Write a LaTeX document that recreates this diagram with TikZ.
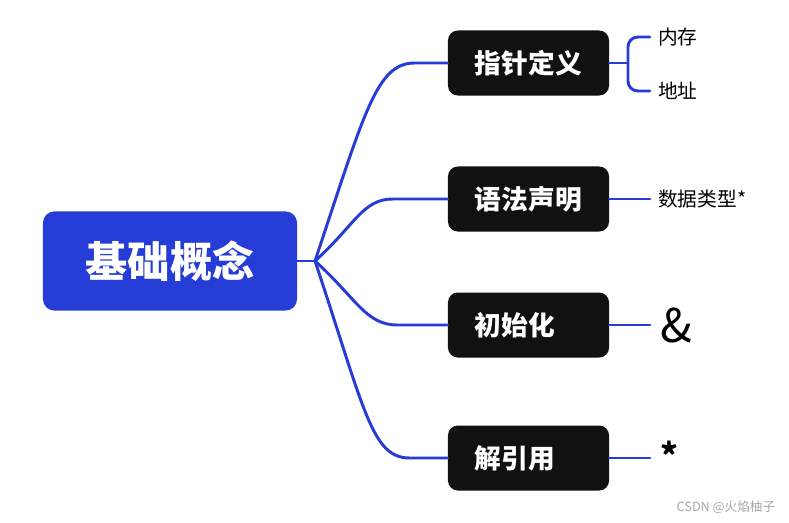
\documentclass[tikz,border=0pt]{standalone}
\usepackage{fontspec}
\usepackage{tikz}
\usepackage{xcolor}
\usetikzlibrary{positioning}
\newfontfamily\cjk{Noto Sans CJK SC}

\begin{document}
\begin{tikzpicture}[x=0.025cm, y=-0.025cm, line cap=round]

        % Define colors of the mind map
        \definecolor{mapblue}{RGB}{38, 60, 214}
        \definecolor{mapblack}{RGB}{17, 17, 17}

        \tikzset{
            rootbox/.style={fill=mapblue, rounded corners=8pt, minimum width=6.35cm,
                minimum height=2.475cm, text=white, font=\cjk\bfseries\fontsize{30}{32}\selectfont},
            topicbox/.style={fill=mapblack, rounded corners=7pt, minimum height=1.625cm,
                inner xsep=0.675cm, text width=2.675cm, align=left, text=white,
                font=\cjk\bfseries\fontsize{19}{22}\selectfont},
            leaf/.style={anchor=west, inner xsep=0.2cm, text=black, font=\cjk\fontsize{14}{16}\selectfont},
            branch/.style={mapblue, line width=2.1pt}
        }

        \useasboundingbox (0,0) rectangle (789,522);

        % Central topic
        \node[rootbox] (root) at (170,261) {基础概念};
        \coordinate (hub) at (315,261);

        % Main topics
        \node[topicbox] (def)  at (528.5,63)  {指针定义};
        \node[topicbox] (decl) at (528.5,199) {语法声明};
        \node[topicbox] (init) at (528.5,325) {初始化};
        \node[topicbox] (deref) at (528.5,458) {解引用};

        % Branches from the central topic
        \draw[branch] (root.east) -- (hub);
        \coordinate[left=0.825cm of def.west] (defin);
        \coordinate[left=1.375cm of decl.west] (declin);
        \coordinate[left=1.25cm of init.west] (initin);
        \coordinate[left=0.95cm of deref.west] (derefin);
        \draw[branch] (hub) .. controls +(50,-150) and +(-38,0) .. (defin) -- (def.west);
        \draw[branch] (hub) .. controls +(40,-36) and +(-30,0) .. (declin) -- (decl.west);
        \draw[branch] (hub) .. controls +(42,38) and +(-32,0) .. (initin) -- (init.west);
        \draw[branch] (hub) .. controls +(50,150) and +(-38,0) .. (derefin) -- (deref.west);

        % Sub topics
        \node[leaf] (mem)  at (650,37) {内存};
        \node[leaf] (addr) at (650,91) {地址};
        \coordinate (fork) at (628,63);
        \draw[branch] (def.east) -- (fork);
        \draw[branch, rounded corners=7pt] (mem.west) -| (fork) |- (addr.west);

        \node[leaf] (type) at (650,199) {数据类型*};
        \draw[branch] (decl.east) -- (type.west);

        \node[leaf, font=\cjk\fontsize{33}{36}\selectfont, inner xsep=0.25cm] (amp) at (650,325) {\&};
        \draw[branch] (init.east) -- (amp.west);

        \node[leaf, font=\cjk\bfseries\fontsize{24}{26}\selectfont, inner xsep=0.25cm] (star) at (650,455) {*};
        \draw[branch] (deref.east) -- (star.west |- deref.east);

        % Watermark
        \node[gray!70, font=\cjk\fontsize{9}{10}\selectfont] (mark) at (726,507) {CSDN @火焰柚子};

    \end{tikzpicture}
\end{document}
